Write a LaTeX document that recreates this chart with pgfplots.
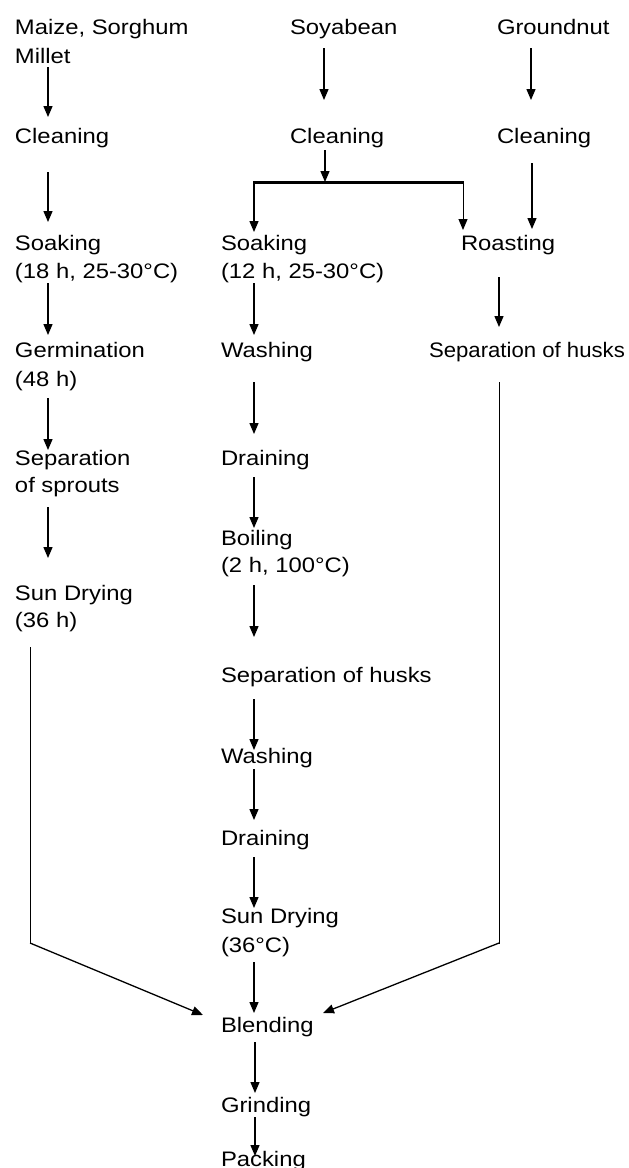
\documentclass[border=0pt]{standalone}
\usepackage{graphicx}
\usepackage{pgfplots}
\pgfplotsset{compat=1.18}
\usetikzlibrary{arrows.meta}
\usepackage{fontspec}
\setmainfont{Liberation Sans}[FakeStretch=1.135]
\tikzset{lab/.style={font=\fontsize{21}{24}\selectfont, anchor=base west, inner sep=0pt, outer sep=0pt}}
\begin{document}
\begin{tikzpicture}
\clip (0,0) rectangle (629pt,1168pt);
\begin{axis}[
  width=629pt, height=1168pt, scale only axis,
  xmin=0, xmax=629, ymin=0, ymax=1168, y dir=reverse,
  hide axis, clip=false,
  ar/.style={black, line width=1.3pt, -{Triangle[length=11pt,width=9pt]}},
  thin ar/.style={black, line width=1pt, -{Triangle[length=11pt,width=9pt]}},
]
% ---- column 1
\node[lab] at (axis cs:15,34) {Maize, Sorghum};
\node[lab] at (axis cs:15,63) {Millet};
\addplot[ar] coordinates {(48,67) (48,117)};
\node[lab] at (axis cs:15,143) {Cleaning};
\addplot[ar] coordinates {(48,172) (48,222)};
\node[lab] at (axis cs:15,250) {Soaking};
\node[lab] at (axis cs:15,278) {(18 h, 25-30°C)};
\addplot[ar] coordinates {(48,283) (48,335)};
\node[lab] at (axis cs:15,357) {Germination};
\node[lab] at (axis cs:15,386) {(48 h)};
\addplot[ar] coordinates {(48,398) (48,450)};
\node[lab] at (axis cs:15,465) {Separation};
\node[lab] at (axis cs:15,492) {of sprouts};
\addplot[ar] coordinates {(48,507) (48,558)};
\node[lab] at (axis cs:15,600) {Sun Drying};
\node[lab] at (axis cs:15,627) {(36 h)};
\addplot[black, line width=1pt] coordinates {(30,647) (30,943.5)};
\addplot[ar] coordinates {(30,943) (203,1015)};
% ---- column 2
\node[lab] at (axis cs:290,34) {Soyabean};
\addplot[ar] coordinates {(324,48) (324,100)};
\node[lab] at (axis cs:290,143) {Cleaning};
\addplot[ar] coordinates {(325,150) (325,182)};
\addplot[black, line width=3pt] coordinates {(253,182) (464,182)};
\addplot[ar] coordinates {(254,182) (254,232)};
\addplot[thin ar] coordinates {(463,182) (463,230)};
\node[lab] at (axis cs:221,250) {Soaking};
\node[lab] at (axis cs:221,278) {(12 h, 25-30°C)};
\addplot[ar] coordinates {(254,283) (254,335)};
\node[lab] at (axis cs:221,357) {Washing};
\addplot[ar] coordinates {(254,382) (254,434)};
\node[lab] at (axis cs:221,465) {Draining};
\addplot[ar] coordinates {(254,477) (254,528)};
\node[lab] at (axis cs:221,545) {Boiling};
\node[lab] at (axis cs:221,572) {(2 h, 100°C)};
\addplot[ar] coordinates {(254,585) (254,637)};
\node[lab] at (axis cs:221,682) {Separation of husks};
\addplot[ar] coordinates {(254,699) (254,750)};
\node[lab] at (axis cs:221,763) {Washing};
\addplot[ar] coordinates {(254,769) (254,820)};
\node[lab] at (axis cs:221,845) {Draining};
\addplot[ar] coordinates {(254,857) (254,908)};
\node[lab] at (axis cs:221,923) {Sun Drying};
\node[lab] at (axis cs:221,952) {(36°C)};
\addplot[ar] coordinates {(254,962) (254,1013)};
\node[lab] at (axis cs:221,1032) {Blending};
\addplot[ar] coordinates {(255,1042) (255,1093)};
\node[lab] at (axis cs:221,1112) {Grinding};
\addplot[ar] coordinates {(255,1117) (255,1156)};
\node[lab] at (axis cs:221,1166) {Packing};
% ---- column 3
\node[lab] at (axis cs:497,34) {Groundnut};
\addplot[ar] coordinates {(531,48) (531,100)};
\node[lab] at (axis cs:497,143) {Cleaning};
\addplot[ar] coordinates {(532,163) (532,229)};
\node[lab] at (axis cs:461,250) {Roasting};
\addplot[ar] coordinates {(499,277) (499,327)};
\node[lab] at (axis cs:429,357) {\scalebox{0.93}[1]{Separation of husks}};
\addplot[black, line width=1pt] coordinates {(499,382) (499,943.5)};
\addplot[ar] coordinates {(499,943) (323,1013)};
\end{axis}
\end{tikzpicture}
\end{document}
